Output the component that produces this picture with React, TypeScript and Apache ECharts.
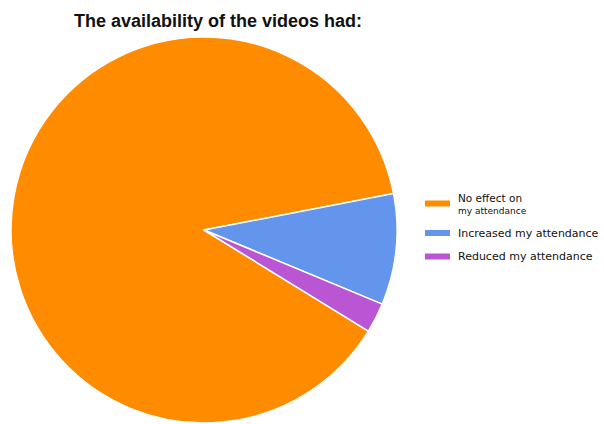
import React, { useEffect, useRef } from "react";
import * as echarts from "echarts";

const titleText = "The availability of the videos had:";
const categories = ["No effect on my attendance", "Increased my attendance", "Reduced my attendance"];
const values = [88.2, 9.3, 2.5];
const colors = ["#FF8C00", "#6495ED", "#BA55D3"];

export default function App() {
  const ref = useRef<HTMLDivElement>(null);
  useEffect(() => {
    if (!ref.current) return;
    const chart = echarts.init(ref.current, null, { renderer: "svg" });
    chart.setOption({
      animation: false,
      backgroundColor: "#ffffff",
      title: {
        text: titleText,
        left: 69,
        top: 7,
        textStyle: { fontFamily: "Liberation Sans, Arial, sans-serif", fontWeight: "bold", fontSize: 18, color: "#111" },
      },
      legend: {
        orient: "vertical",
        left: 418,
        top: 187,
        itemWidth: 27,
        itemHeight: 8,
        itemGap: 12.5,
        icon: "rect",
        data: categories,
        formatter: (name: string) =>
          name === categories[0] ? "{a|No effect on}\n{b|my attendance}" : name,
        textStyle: {
          fontFamily: "DejaVu Sans, sans-serif",
          fontSize: 11,
          color: "#111",
          padding: [0, 0, 0, 2],
          rich: {
            a: { fontFamily: "DejaVu Sans, sans-serif", fontSize: 10.5, color: "#111", lineHeight: 14 },
            b: { fontFamily: "DejaVu Sans, sans-serif", fontSize: 9, color: "#111", lineHeight: 12 },
          },
        },
      },
      series: [
        {
          type: "pie",
          center: [204, 230],
          radius: 193,
          startAngle: 328.4,
          clockwise: true,
          label: { show: false },
          labelLine: { show: false },
          emphasis: { disabled: true },
          itemStyle: { borderColor: "#ffffff", borderWidth: 1.5 },
          data: categories.map((c, i) => ({ name: c, value: values[i], itemStyle: { color: colors[i] } })),
        },
      ],
    });
    return () => chart.dispose();
  }, []);
  return <div ref={ref} style={{ width: 604, height: 424, position: "absolute", left: 0, top: 0 }} />;
}
